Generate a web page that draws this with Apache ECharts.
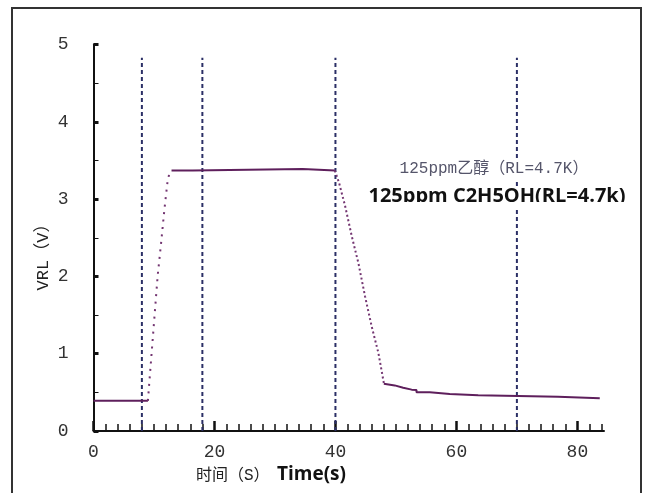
<!DOCTYPE html>
<html>
<head>
<meta charset="utf-8">
<script src="https://cdn.jsdelivr.net/npm/echarts@6/dist/echarts.min.js"></script>
<style>
html,body{margin:0;padding:0;background:#fff;}
#c{width:649px;height:493px;}
</style>
</head>
<body>
<div id="c"></div>
<script>
// ---- data ----
const xMajorTicks = [0, 20, 40, 60, 80];
const xMinorTicks = [2,4,6,8,10,12,14,16,18,22,24,26,28,30,32,34,36,38,42,44,46,48,50,52,54,56,58,62,64,66,68,70,72,74,76,78,82,84];
const dashTimes = [8, 18, 40, 70];
const dashTop = 4.83;

const baseT = [0, 9.0];
const baseV = [0.39, 0.39];

const riseT = [9.0, 9.2, 9.6, 10.1, 10.6, 11.2, 11.7, 12.2, 12.5, 12.9];
const riseV = [0.39, 0.6, 1.0, 1.5, 2.0, 2.45, 2.85, 3.2, 3.32, 3.37];

const plateauT = [12.9, 16.4, 16.4, 34.6, 34.6, 39.9];
const plateauV = [3.37, 3.37, 3.39, 3.39, 3.37, 3.37];

const fallT = [39.9, 40.6, 41.6, 42.7, 43.8, 44.9, 46.0, 47.1, 48.0];
const fallV = [3.37, 3.21, 2.91, 2.52, 2.17, 1.74, 1.35, 1.01, 0.62];

const decayT = [48.0, 49.8, 49.8, 51.2, 52.6, 53.4, 53.4, 55.6, 55.6, 58.9, 58.9, 63.6, 63.6, 76.8, 76.8, 83.7];
const decayV = [0.61, 0.59, 0.575, 0.56, 0.535, 0.53, 0.50, 0.50, 0.48, 0.48, 0.462, 0.462, 0.444, 0.444, 0.423, 0.423];

const yName = 'VRL（V）';
const xNameCn = '时间（S）';
const xNameEn = 'Time(s)';
const noteCn = '125ppm乙醇（RL=4.7K）';
const noteEn = '125ppm C2H5OH(RL=4.7k)';

// ---- build ----
const zip = (t, v) => t.map((x, i) => [x, v[i]]);
const solidColor = '#5e1f5c';
const dotColor = '#733571';
const dashColor = '#2b2f66';
const monoFont = "'Liberation Mono', 'Noto Sans CJK SC', monospace";

const series = [];
dashTimes.forEach(t => {
  series.push({
    type: 'line', data: [[t, 0], [t, dashTop]], symbol: 'none', silent: true,
    lineStyle: { color: dashColor, width: 2, type: [4, 3] }, z: 1
  });
});
series.push({ type: 'line', data: zip(baseT, baseV), symbol: 'none',
  lineStyle: { color: solidColor, width: 2 }, z: 3 });
series.push({ type: 'line', data: zip(riseT, riseV), symbol: 'none', smooth: false,
  lineStyle: { color: dotColor, width: 2, type: [2, 5.5] }, z: 3 });
series.push({ type: 'line', data: zip(plateauT, plateauV), symbol: 'none',
  lineStyle: { color: solidColor, width: 2 }, z: 3 });
series.push({ type: 'line', data: zip(fallT, fallV), symbol: 'none',
  lineStyle: { color: dotColor, width: 2, type: [2, 2.6] }, z: 3 });
series.push({ type: 'line', data: zip(decayT, decayV), symbol: 'none',
  lineStyle: { color: solidColor, width: 2 }, z: 3 });

const chart = echarts.init(document.getElementById('c'), null, { renderer: 'canvas' });
chart.setOption({
  animation: false,
  backgroundColor: '#fff',
  grid: { left: 93.5, top: 44.5, right: 45, bottom: 62, containLabel: false },
  xAxis: [
    {
      type: 'value', min: 0, max: 84.4,
      axisLine: { show: true, lineStyle: { color: '#111', width: 2 } },
      axisTick: { show: true, inside: true, length: 10, customValues: xMajorTicks,
        lineStyle: { color: '#111', width: 2.5 } },
      axisLabel: { show: true, customValues: xMajorTicks, margin: 12,
        fontFamily: monoFont, fontSize: 18, color: '#333' },
      splitLine: { show: false }
    },
    {
      type: 'value', min: 0, max: 84.4, position: 'bottom',
      axisLine: { show: false },
      axisTick: { show: true, inside: true, length: 7, customValues: xMinorTicks,
        lineStyle: { color: '#111', width: 1.5 } },
      axisLabel: { show: false },
      splitLine: { show: false }
    }
  ],
  yAxis: {
    type: 'value', min: 0, max: 5, interval: 1,
    axisLine: { show: true, lineStyle: { color: '#111', width: 2 } },
    axisTick: { show: true, inside: true, length: 5, lineStyle: { color: '#111', width: 3 } },
    minorTick: { show: true, splitNumber: 2, length: 5, lineStyle: { color: '#111', width: 1 } },
    axisLabel: { margin: 25, fontFamily: monoFont, fontSize: 18, color: '#333' },
    splitLine: { show: false }
  },
  series: series,
  graphic: [
    { type: 'rect', shape: { x: 12, y: 8, width: 629, height: 520 }, silent: true,
      style: { fill: 'none', stroke: '#333', lineWidth: 2 }, z: 0 },
    { type: 'text', x: 43, y: 253, rotation: Math.PI / 2, silent: true,
      style: { text: yName, font: "17px " + monoFont, fill: '#222', align: 'center', verticalAlign: 'middle' } },
    { type: 'text', x: 196, y: 476, silent: true,
      style: { text: xNameCn, font: "16px " + monoFont, fill: '#222', align: 'left', verticalAlign: 'middle' } },
    { type: 'text', x: 277, y: 475, silent: true,
      style: { text: xNameEn, font: "bold 19px 'Open Sans', sans-serif", fill: '#111', align: 'left', verticalAlign: 'middle' } },
    { type: 'text', x: 494, y: 169, silent: true, z: 10,
      style: { text: noteCn, font: "16px " + monoFont, fill: '#55556a', align: 'center', verticalAlign: 'middle',
        backgroundColor: '#fff', padding: [2, 2] } },
    { type: 'text', x: 497, y: 196, silent: true, z: 10,
      style: { text: noteEn, font: "bold 20px 'Open Sans', sans-serif", fill: '#111', align: 'center', verticalAlign: 'middle',
        backgroundColor: '#fff', padding: [0, 2] } },
    { type: 'rect', shape: { x: 360, y: 202, width: 272, height: 5 }, silent: true, z: 11,
      style: { fill: '#fff' } }
  ]
});
</script>
</body>
</html>
